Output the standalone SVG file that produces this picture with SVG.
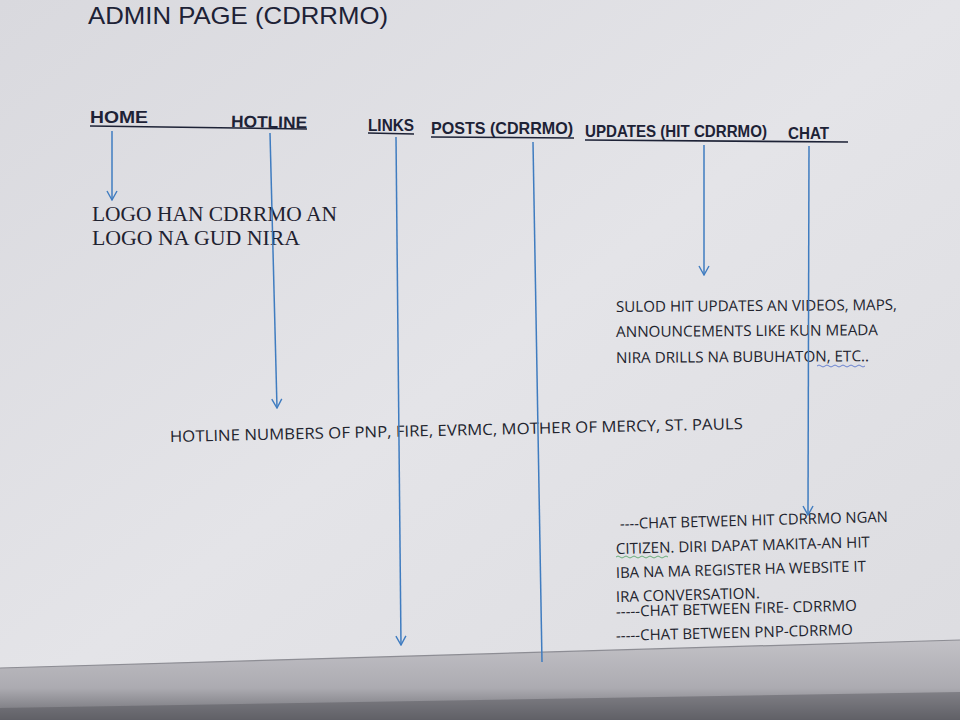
<svg xmlns="http://www.w3.org/2000/svg" width="960" height="720" viewBox="0 0 960 720">
<defs>
<linearGradient id="bg" x1="0" y1="0" x2="1" y2="1">
<stop offset="0" stop-color="#d9d9de"/>
<stop offset="0.5" stop-color="#e4e4e8"/>
<stop offset="1" stop-color="#dcdce0"/>
</linearGradient>
<linearGradient id="bot" x1="0" y1="0" x2="0" y2="1">
<stop offset="0" stop-color="#c2c1c6"/>
<stop offset="0.6" stop-color="#acabb1"/>
<stop offset="1" stop-color="#6a6a70"/>
</linearGradient>
<marker id="arr" viewBox="0 0 12 12" refX="11" refY="6" markerWidth="12" markerHeight="12" markerUnits="userSpaceOnUse" orient="auto">
<path d="M2,1 L11,6 L2,11" fill="none" stroke="#3f7cc0" stroke-width="1.4"/>
</marker>
<style>
.hd{font-family:"Liberation Sans","Open Sans",sans-serif;font-weight:bold;font-size:16.5px;fill:#1d2236}
.ul{stroke:#1d2236;stroke-width:1.6;fill:none}
.cn{stroke:#3f7cc0;stroke-width:1.5;fill:none}
.sf{font-family:"Liberation Serif","DejaVu Serif",serif;font-size:21px;fill:#1f2230}
.ss{font-family:"Open Sans","Liberation Sans",sans-serif;font-size:15px;fill:#22242e}
</style>
</defs>
<rect width="960" height="720" fill="url(#bg)"/>
<path d="M0,668 L960,640 L960,720 L0,720 Z" fill="url(#bot)"/>
<path d="M0,668 L960,640" stroke="#8d8d94" stroke-width="1.2" fill="none"/>
<path d="M0,708 L960,692 L960,720 L0,720 Z" fill="#55555b" opacity="0.45"/>

<g id="title">
<text x="88" y="24" font-family="Liberation Sans, Open Sans, sans-serif" font-size="24" fill="#1d2236" textLength="300" lengthAdjust="spacingAndGlyphs">ADMIN PAGE (CDRRMO)</text>
</g>

<g id="home">
<text class="hd" x="90" y="123" textLength="58" lengthAdjust="spacingAndGlyphs">HOME</text>
</g>
<g id="hotline">
<text class="hd" x="231" y="127" transform="rotate(1 231 127)" textLength="76" lengthAdjust="spacingAndGlyphs">HOTLINE</text>
</g>
<g id="links">
<text class="hd" x="368" y="131" textLength="46" lengthAdjust="spacingAndGlyphs">LINKS</text>
</g>
<g id="posts">
<text class="hd" x="431" y="134" textLength="142" lengthAdjust="spacingAndGlyphs">POSTS (CDRRMO)</text>
</g>
<g id="updates">
<text class="hd" x="585" y="137" textLength="182" lengthAdjust="spacingAndGlyphs">UPDATES (HIT CDRRMO)</text>
</g>
<g id="chat">
<text class="hd" x="788" y="139" textLength="41" lengthAdjust="spacingAndGlyphs">CHAT</text>
</g>
<g id="underlines">
<path class="ul" d="M90,126 L307,129"/>
<path class="ul" d="M368,133 L414,134"/>
<path class="ul" d="M431,137 L574,138"/>
<path class="ul" d="M585,140 L848,142"/>
</g>

<g id="logo">
<text class="sf" x="92" y="221" textLength="245" lengthAdjust="spacingAndGlyphs">LOGO HAN CDRRMO AN</text>
<text class="sf" x="92" y="245" textLength="208" lengthAdjust="spacingAndGlyphs">LOGO NA GUD NIRA</text>
</g>

<g id="updates-text">
<text class="ss" x="616" y="312" transform="rotate(-0.4 616 312)" textLength="281" lengthAdjust="spacingAndGlyphs">SULOD HIT UPDATES AN VIDEOS, MAPS,</text>
<text class="ss" x="616" y="337" transform="rotate(-0.4 616 337)" textLength="262" lengthAdjust="spacingAndGlyphs">ANNOUNCEMENTS LIKE KUN MEADA</text>
<text class="ss" x="616" y="363" transform="rotate(-0.4 616 363)" textLength="253" lengthAdjust="spacingAndGlyphs">NIRA DRILLS NA BUBUHATON, ETC..</text>
<path d="M817,366 q2,-2 4,0 t4,0 t4,0 t4,0 t4,0 t4,0 t4,0 t4,0 t4,0 t4,0 t4,0 t4,0" fill="none" stroke="#4a6ac8" stroke-width="0.8"/>
</g>

<g id="hotline-text">
<text x="170" y="442" transform="rotate(-1.3 170 442)" font-family="Open Sans, Liberation Sans, sans-serif" font-size="15.5" fill="#22242e" textLength="573" lengthAdjust="spacingAndGlyphs">HOTLINE NUMBERS OF PNP, FIRE, EVRMC, MOTHER OF MERCY, ST. PAULS</text>
</g>

<g id="chat-text">
<text class="ss" x="620" y="529" transform="rotate(-1.5 620 529)" textLength="268" lengthAdjust="spacingAndGlyphs">----CHAT BETWEEN HIT CDRRMO NGAN</text>
<text class="ss" x="616" y="554" transform="rotate(-1.5 616 554)" textLength="254" lengthAdjust="spacingAndGlyphs">CITIZEN. DIRI DAPAT MAKITA-AN HIT</text>
<text class="ss" x="616" y="578" transform="rotate(-1.5 616 578)" textLength="250" lengthAdjust="spacingAndGlyphs">IBA NA MA REGISTER HA WEBSITE IT</text>
<text class="ss" x="616" y="602" transform="rotate(-1.5 616 602)" textLength="144" lengthAdjust="spacingAndGlyphs">IRA CONVERSATION.</text>
<text class="ss" x="616" y="617" transform="rotate(-1.5 616 617)" textLength="241" lengthAdjust="spacingAndGlyphs">-----CHAT BETWEEN FIRE- CDRRMO</text>
<text class="ss" x="616" y="641" transform="rotate(-1.5 616 641)" textLength="237" lengthAdjust="spacingAndGlyphs">-----CHAT BETWEEN PNP-CDRRMO</text>
<path d="M616,557 q2,-2 4,0 t4,0 t4,0 t4,0 t4,0 t4,0 t4,0 t4,0 t4,0 t4,0 t4,0 t4,0 t4,0" fill="none" stroke="#4aa060" stroke-width="0.8"/>
</g>

<g id="connectors">
<path class="cn" d="M112,131 L112,200" marker-end="url(#arr)"/>
<path class="cn" d="M270,133 L277,408" marker-end="url(#arr)"/>
<path class="cn" d="M396,137 L401,645" marker-end="url(#arr)"/>
<path class="cn" d="M533,142 L542,662"/>
<path class="cn" d="M704,145 L704,275" marker-end="url(#arr)"/>
<path class="cn" d="M809,146 L808,515" marker-end="url(#arr)"/>
</g>
</svg>
